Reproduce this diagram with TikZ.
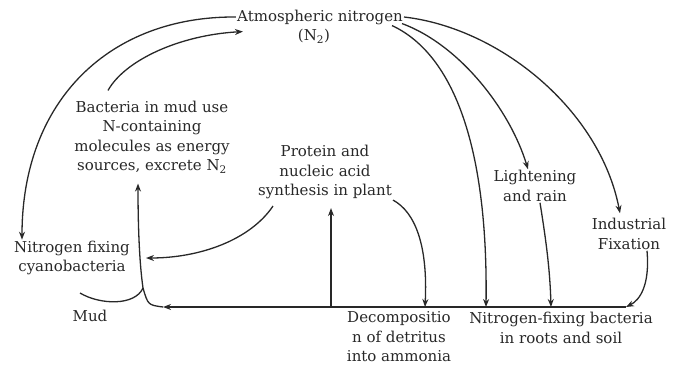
\documentclass[tikz,border=0pt]{standalone}
\usepackage{fontspec}
\setmainfont{DejaVu Serif}
\usetikzlibrary{arrows.meta}
\definecolor{ink}{RGB}{40,40,40}

\begin{document}
\begin{tikzpicture}[x=1pt, y=-1pt,
  lbl/.style={align=center, inner sep=1pt, text=ink,
              font=\fontsize{15}{19.5}\selectfont},
  flow/.style={-{Stealth[length=8pt,width=6pt]}, line width=1.3pt, draw=ink},
  plain/.style={line width=1.3pt, draw=ink}
]
\useasboundingbox (0,0) rectangle (680,370);

% labels
\node[lbl] (atm)    at (320,17)  {Atmospheric nitrogen};
\node[lbl] (atmsub) at (314,36)  {(N\textsubscript{2})};
\node[lbl] (bact)   at (152,137) {Bacteria in mud use\\N-containing\\molecules as energy\\sources, excrete N\textsubscript{2}};
\node[lbl] (prot)   at (325,172) {Protein and\\nucleic acid\\synthesis in plant};
\node[lbl] (light)  at (535,186) {Lightening\\and rain};
\node[lbl] (indus)  at (629,234) {Industrial\\Fixation};
\node[lbl] (cyano)  at (72,258)  {Nitrogen fixing\\cyanobacteria};
\node[lbl] (mud)    at (90,316)  {Mud};
\node[lbl] (decomp) at (399,337) {Decompositio\\n of detritus\\into ammonia};
\node[lbl] (nfix)   at (561,328) {Nitrogen-fixing bacteria\\in roots and soil};

% points on the soil line
\coordinate (soilL)   at (163,307);
\coordinate (soilR)   at (626,307);
\coordinate (sPlant)  at (331,307);
\coordinate (sDecomp) at (425,307);
\coordinate (sAtm)    at (486,307);
\coordinate (sRain)   at (551,307);
\coordinate (junc)    at (143,288);

% soil line and uptake
\draw[flow, line width=1.8pt] (soilR) -- (soilL);
\draw[flow] (sPlant) -- ([xshift=6pt,yshift=-8pt]prot.south);

% from the atmosphere
\draw[flow] (atm.west) .. controls (110,16) and (22,100) .. ([xshift=-50pt]cyano.north);
\draw[flow] (atm.east) .. controls (500,28) and (600,110) .. ([xshift=-9pt,yshift=4pt]indus.north);
\draw[flow] ([xshift=-2pt,yshift=2pt]atm.south east) .. controls (460,45) and (510,110) .. ([xshift=-7pt]light.north);
\draw[flow] ([xshift=-12pt]atm.south east) .. controls (455,55) and (488,150) .. (sAtm);

% down to the soil
\draw[flow] ([xshift=5pt]light.south) .. controls (546,240) and (550,270) .. (sRain);
\draw[flow] ([xshift=18pt]indus.south) .. controls (650,285) and (640,300) .. (soilR);
\draw[flow] (prot.south east) .. controls (415,212) and (428,245) .. (sDecomp);

% plant and mud
\draw[flow] ([xshift=16pt,yshift=-6pt]prot.south west) .. controls (250,240) and (200,258) .. ([xshift=15pt]cyano.east);
\draw[flow] (soilL) .. controls (148,305) .. (junc) .. controls (139,260) and (138,220) .. ([xshift=-14pt,yshift=-9pt]bact.south);
\draw[plain] ([xshift=-10pt,yshift=16pt]mud.north) .. controls (100,305) and (135,306) .. (junc);
\draw[flow] ([xshift=-44pt,yshift=9pt]bact.north) .. controls (125,60) and (180,35) .. ([xshift=7pt,yshift=-6pt]atm.south west);
\end{tikzpicture}
\end{document}
